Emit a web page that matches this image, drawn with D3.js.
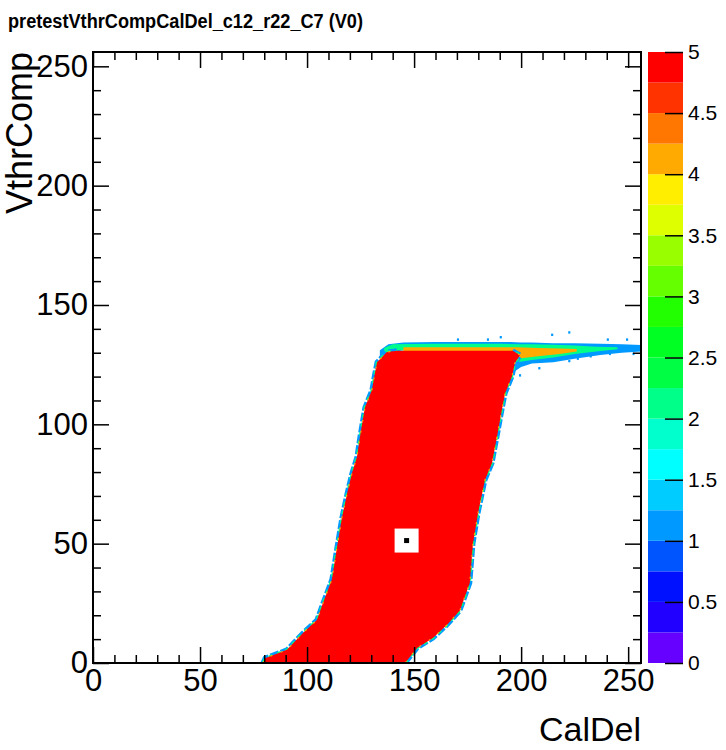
<!DOCTYPE html>
<html>
<head>
<meta charset="utf-8">
<script src="https://cdn.jsdelivr.net/npm/d3@7"></script>
<style>
  body { margin: 0; background: #fff; }
  svg { display: block; }
</style>
</head>
<body>
<div id="chart"></div>
<script>
// palette, 20 contours from 0 to 5 (bottom to top)
const paletteColors = ["#6600ff", "#2200ff", "#0011ff", "#0055ff", "#0099ff", "#00ccff", "#00ffff", "#00ffcc",
  "#00ff88", "#00ff44", "#00ff22", "#22ff00", "#66ff00", "#99ff00", "#ddff00", "#ffee00",
  "#ffaa00", "#ff7700", "#ff3300", "#ff0000"];
const zTicks = [0, 0.5, 1, 1.5, 2, 2.5, 3, 3.5, 4, 4.5, 5];
const xMajor = [0, 50, 100, 150, 200, 250];
const yMajor = [0, 50, 100, 150, 200, 250];
const minorTicks = [10, 20, 30, 40, 60, 70, 80, 90, 110, 120, 130, 140, 160, 170, 180, 190, 210, 220, 230, 240];

// edges of the full (5/5) region, [CalDel, VthrComp]
const leftEdge = [[79.4, 0], [80.4, 2], [90.6, 5.5], [98.1, 12.6], [104.6, 18], [107.4, 25], [111.6, 35],
  [114, 48.6], [116.3, 61], [118.7, 71], [121, 79.6], [123.3, 86.3], [124.7, 94.7], [127, 107],
  [130.3, 114.4], [131.7, 121.5], [132.7, 126], [137.3, 130.3], [142, 130.8]];
const rightEdge = [[145.8, 0], [151.4, 6.3], [158.8, 10.5], [165.4, 16], [171.4, 22], [176, 33.5],
  [177.5, 50], [179.9, 63], [183.1, 76.7], [186.4, 83.8], [188.7, 94.7], [191, 106], [192.5, 113],
  [195.7, 120], [197.1, 125.7], [199.5, 129], [196, 130.8]];

// plateau near VthrComp ~130: [CalDel, low, high] for each level
const band1 = [[134, 126, 131], [138, 130, 133.5], [145, 131, 134.3], [160, 131, 134.5], [180, 131, 134.5],
  [190, 124, 134.5], [195, 121, 134.5], [200, 124, 134.3], [205, 125.5, 134.3], [215, 126, 134],
  [225, 127.5, 134], [237, 129, 133.8], [247, 130, 133.5], [256, 130.5, 133.2]];
const band2 = [[136, 128, 132], [140, 131, 133.5], [160, 131, 133.8], [190, 130, 133.8], [198, 126, 133.5],
  [205, 127, 133.5], [215, 128, 133.3], [225, 129.5, 133], [235, 130.5, 132.5], [245, 131.5, 132.3]];
const band4 = [[145, 130, 132.3], [190, 129, 132.3], [198, 127.5, 132.3], [208, 128.5, 132],
  [218, 129.5, 131.8], [226, 130.5, 131.6]];
// isolated single hits
const strayBins = [[190, 136], [214, 137], [222, 138], [240, 135], [249, 135], [199, 120], [222, 126],
  [226, 127], [241, 129], [232, 128], [252, 129], [208, 123], [184, 135], [170, 135]];
const markerPoint = [146.5, 51.3];

const W = 726, H = 750;
const svg = d3.select('#chart').append('svg').attr('width', W).attr('height', H);

const xScale = d3.scaleLinear().domain([0, 256]).range([93, 641]);
const yScale = d3.scaleLinear().domain([0, 256]).range([663, 52]);
const zScale = d3.scaleLinear().domain([0, 5]).range([663, 52]);
const colorOf = d3.scaleQuantize().domain([0, 5]).range(paletteColors);

svg.append('clipPath').attr('id', 'plotclip')
  .append('rect').attr('x', 93).attr('y', 52).attr('width', 548).attr('height', 611);

const plot = svg.append('g').attr('clip-path', 'url(#plotclip)');

const bandArea = d3.area()
  .x(d => xScale(d[0]))
  .y0(d => yScale(d[1]))
  .y1(d => yScale(d[2]));

plot.append('path').datum(band1).attr('d', bandArea).attr('fill', colorOf(1));
plot.append('path').datum(band2).attr('d', bandArea).attr('fill', colorOf(2));
plot.append('path').datum(band4).attr('d', bandArea).attr('fill', colorOf(4));

plot.selectAll('rect.stray')
  .data(strayBins)
  .enter()
  .append('rect')
  .attr('class', 'stray')
  .attr('x', d => xScale(d[0]))
  .attr('y', d => yScale(d[1] + 1))
  .attr('width', xScale(1) - xScale(0))
  .attr('height', yScale(0) - yScale(1))
  .attr('fill', colorOf(1));

const edgeLine = d3.line().x(d => xScale(d[0])).y(d => yScale(d[1]));

[leftEdge, rightEdge].forEach(edge => {
  plot.append('path').datum(edge).attr('d', edgeLine)
    .attr('fill', 'none').attr('stroke', colorOf(1)).attr('stroke-width', 5)
    .attr('stroke-dasharray', '9,2');
  plot.append('path').datum(edge).attr('d', edgeLine)
    .attr('fill', 'none').attr('stroke', colorOf(2)).attr('stroke-width', 2.5)
    .attr('stroke-dasharray', '4,5');
});

const fullRegion = leftEdge.concat(rightEdge.slice().reverse());
plot.append('path').datum(fullRegion)
  .attr('d', edgeLine(fullRegion) + 'Z')
  .attr('fill', colorOf(5));

plot.append('path').datum(leftEdge).attr('d', edgeLine)
  .attr('fill', 'none').attr('stroke', colorOf(4)).attr('stroke-width', 1.2)
  .attr('stroke-dasharray', '2,9');
plot.append('path').datum(rightEdge).attr('d', edgeLine)
  .attr('fill', 'none').attr('stroke', colorOf(4)).attr('stroke-width', 1.2)
  .attr('stroke-dasharray', '2,9');

// marker
plot.append('rect')
  .attr('x', xScale(markerPoint[0]) - 12).attr('y', yScale(markerPoint[1]) - 12)
  .attr('width', 24).attr('height', 24).attr('fill', '#fff');
plot.append('rect')
  .attr('x', xScale(markerPoint[0]) - 2.5).attr('y', yScale(markerPoint[1]) - 2.5)
  .attr('width', 5).attr('height', 5).attr('fill', '#000');

// palette
const levels = d3.range(20).map(i => i * 0.25);
svg.selectAll('rect.pal')
  .data(levels)
  .enter()
  .append('rect')
  .attr('class', 'pal')
  .attr('x', 648)
  .attr('width', 35)
  .attr('y', d => zScale(d + 0.25))
  .attr('height', zScale(0) - zScale(0.25))
  .attr('fill', d => colorOf(d + 0.1));

const tickFont = "'Liberation Sans', Arial, sans-serif";

function styleAxis(g, size) {
  g.select('.domain').remove();
  g.selectAll('line').attr('stroke', '#000').attr('stroke-width', 1.5);
  g.attr('font-family', tickFont).attr('font-size', size);
  g.selectAll('text').attr('fill', '#000');
}

svg.append('g').attr('transform', 'translate(0,663)')
  .call(d3.axisBottom(xScale).tickValues(xMajor).tickSize(-16).tickPadding(6))
  .call(g => styleAxis(g, 31));
svg.append('g').attr('transform', 'translate(0,663)')
  .call(d3.axisBottom(xScale).tickValues(minorTicks).tickSize(-8).tickFormat(''))
  .call(g => styleAxis(g, 31));
svg.append('g').attr('transform', 'translate(0,52)')
  .call(d3.axisTop(xScale).tickValues(xMajor).tickSize(-16).tickFormat(''))
  .call(g => styleAxis(g, 31));
svg.append('g').attr('transform', 'translate(0,52)')
  .call(d3.axisTop(xScale).tickValues(minorTicks).tickSize(-8).tickFormat(''))
  .call(g => styleAxis(g, 31));

svg.append('g').attr('transform', 'translate(93,0)')
  .call(d3.axisLeft(yScale).tickValues(yMajor).tickSize(-16).tickPadding(5))
  .call(g => styleAxis(g, 31));
svg.append('g').attr('transform', 'translate(93,0)')
  .call(d3.axisLeft(yScale).tickValues(minorTicks).tickSize(-8).tickFormat(''))
  .call(g => styleAxis(g, 31));
svg.append('g').attr('transform', 'translate(641,0)')
  .call(d3.axisRight(yScale).tickValues(yMajor).tickSize(-16).tickFormat(''))
  .call(g => styleAxis(g, 31));
svg.append('g').attr('transform', 'translate(641,0)')
  .call(d3.axisRight(yScale).tickValues(minorTicks).tickSize(-8).tickFormat(''))
  .call(g => styleAxis(g, 31));

svg.append('g').attr('transform', 'translate(683,0)')
  .call(d3.axisRight(zScale).tickValues(zTicks).tickSize(-18).tickPadding(5).tickFormat(d3.format('')))
  .call(g => styleAxis(g, 21));

// frame
svg.append('rect')
  .attr('x', 93).attr('y', 52).attr('width', 548).attr('height', 611)
  .attr('fill', 'none').attr('stroke', '#000').attr('stroke-width', 2);

// titles
svg.append('text')
  .attr('x', 8).attr('y', 28)
  .attr('font-family', tickFont).attr('font-weight', 'bold').attr('font-size', 20)
  .attr('textLength', 355).attr('lengthAdjust', 'spacingAndGlyphs')
  .text('pretestVthrCompCalDel_c12_r22_C7 (V0)');

svg.append('text')
  .attr('x', 641).attr('y', 741)
  .attr('text-anchor', 'end')
  .attr('font-family', tickFont).attr('font-size', 34)
  .text('CalDel');

svg.append('text')
  .attr('transform', 'translate(32,52) rotate(-90)')
  .attr('text-anchor', 'end')
  .attr('font-family', tickFont).attr('font-size', 36)
  .text('VthrComp');
</script>
</body>
</html>
